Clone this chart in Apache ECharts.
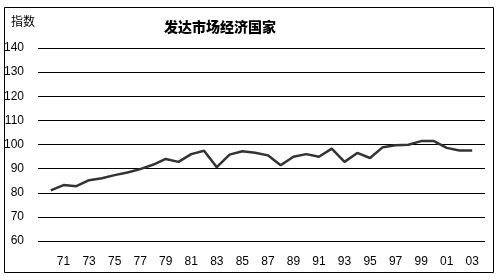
<!DOCTYPE html>
<html>
<head>
<meta charset="utf-8">
<script src="https://cdn.jsdelivr.net/npm/echarts@6/dist/echarts.min.js"></script>
<style>
html,body{margin:0;padding:0;background:#fff;}
#c{width:502px;height:280px;}
</style>
</head>
<body>
<div id="c"></div>
<script>
var titleText = '发达市场经济国家';
var yAxisName = '指数';
var years = [1970,1971,1972,1973,1974,1975,1976,1977,1978,1979,1980,1981,1982,1983,1984,1985,1986,1987,1988,1989,1990,1991,1992,1993,1994,1995,1996,1997,1998,1999,2000,2001,2002,2003];
var values = [81.0,83.2,82.7,85.2,86.0,87.3,88.4,89.8,91.6,94.0,92.8,96.0,97.4,90.6,95.8,97.2,96.6,95.5,91.4,94.9,96.0,94.9,98.3,92.8,96.5,94.4,98.9,99.7,99.9,101.4,101.4,98.6,97.5,97.5];
var xTickLabels = ['71','73','75','77','79','81','83','85','87','89','91','93','95','97','99','01','03'];
var yTicks = [60,70,80,90,100,110,120,130,140];

var cats = [];
for (var y = years[0] - 1; y <= years[years.length - 1] + 1; y++) cats.push(String(y));

var chart = echarts.init(document.getElementById('c'));
chart.setOption({
  animation: false,
  backgroundColor: '#fff',
  grid: {left: 38, right: 17, top: 48, bottom: 39},
  graphic: [
    {type: 'rect', shape: {x: 4.5, y: 7.5, width: 489, height: 265}, style: {fill: 'none', stroke: '#000', lineWidth: 1}, z: 100},
    {type: 'text', left: 11, top: 15, style: {text: yAxisName, font: '12px "Noto Sans CJK SC"', fill: '#000'}},
    {type: 'text', left: 164, top: 20, style: {text: titleText, font: '900 14px "Noto Sans CJK SC"', fill: '#000'}}
  ],
  xAxis: {
    type: 'category',
    data: cats,
    boundaryGap: false,
    axisLine: {show: false},
    axisTick: {show: false},
    splitLine: {show: false},
    axisLabel: {
      interval: function (i, v) { return xTickLabels.indexOf(v.slice(2)) >= 0 && i > 0 && i < cats.length - 1; },
      formatter: function (v) { return v.slice(2); },
      margin: 15,
      color: '#000',
      fontSize: 12,
      fontFamily: 'Liberation Sans'
    }
  },
  yAxis: {
    type: 'value',
    min: yTicks[0],
    max: yTicks[yTicks.length - 1],
    interval: 10,
    axisLine: {show: false},
    axisTick: {show: false},
    splitLine: {lineStyle: {color: '#000', width: 1}},
    axisLabel: {
      margin: 14,
      color: '#000',
      fontSize: 12,
      fontFamily: 'Liberation Sans'
    }
  },
  series: [{
    type: 'line',
    data: years.map(function (y, i) { return [String(y), values[i]]; }),
    showSymbol: false,
    lineStyle: {color: '#333', width: 2.5},
    itemStyle: {color: '#333'}
  }]
});
</script>
</body>
</html>
